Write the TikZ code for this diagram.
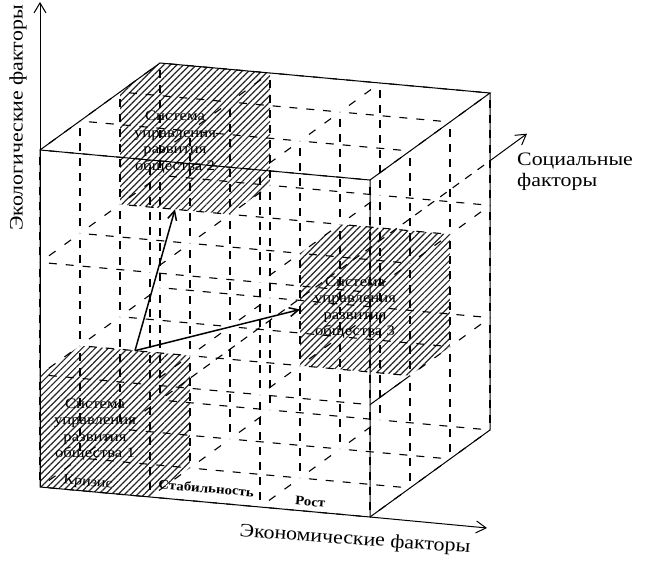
\documentclass[tikz,border=0pt]{standalone}
\usepackage{fontspec}
\setmainfont[FakeStretch=1.15]{Liberation Serif}
\usepackage{tikz}
\usetikzlibrary{arrows.meta, calc, patterns.meta, decorations}
\tikzset{
    gridline/.style={line width=1.1pt, dash pattern=on 8pt off 7pt, dash expand off},
    edge/.style={line width=1pt},
    axis/.style={line width=1pt, -{Straight Barb[length=10pt, width=12pt]}},
    vec/.style={line width=1.5pt, -{Straight Barb[length=9pt, width=9pt]}},
    hatched/.style={pattern={Lines[angle=45, distance=4.6pt, line width=1.2pt]}, pattern color=black!85},
    boxlabel/.style={align=center, inner sep=0pt, font=\fontsize{14.5}{16.5}\selectfont},
    axislabel/.style={inner sep=0pt, font=\fontsize{19}{21}\selectfont},
    statelabel/.style={anchor=south, rotate=-5, inner sep=0pt, font=\fontsize{13}{14}\selectfont\bfseries}
}

\begin{document}
\begin{tikzpicture}[x=1pt, y=1pt]
    \useasboundingbox (0,0) rectangle (655,567);
    % lattice points: i economic, j ecological, k social
    \foreach \i in {0,...,3}{
        \foreach \j in {0,...,3}{
            \foreach \k in {0,...,3}{
                \coordinate (p\i\j\k) at ({40+110*\i+40*\k},{80-10*\i+112.33*\j+29*\k});
            }
        }
    }
    % hatched cells
    \fill[hatched] (p000) -- (p100) -- (p101) -- (p111) -- (p011) -- (p010) -- cycle;
    \fill[hatched] (p022) -- (p122) -- (p123) -- (p133) -- (p033) -- (p032) -- cycle;
    \fill[hatched] (p211) -- (p311) -- (p312) -- (p322) -- (p222) -- (p221) -- cycle;
    % dashed lattice
    \foreach \a in {0,...,3}{
        \foreach \b in {0,...,3}{
            \foreach \c [count=\n] in {0,1,2}{
                \draw[gridline] (p\c\a\b) -- (p\n\a\b);
                \draw[gridline] (p\a\c\b) -- (p\a\n\b);
                \draw[gridline] (p\a\b\c) -- (p\a\b\n);
            }
        }
    }
    % visible edges of the cube
    \draw[edge] (p000) -- (p300) -- (p330) -- (p030) -- cycle;
    \draw[edge] (p030) -- (p033) -- (p333) -- (p330);
    \draw[edge] (p300) -- (p303) -- (p333);
    \draw[edge] (p310) -- (p311);
    % axes
    \coordinate (ecotip) at (40,565);
    \coordinate (econtip) at (487,39);
    \coordinate (socexit) at (490,406.25);
    \coordinate (soctip) at (527,433.3);
    \draw[axis] (p000) -- (ecotip);
    \draw[axis] (p300) -- (econtip);
    \draw[gridline] (p003) -- (socexit);
    \draw[axis] (socexit) -- (soctip);
    % development vectors
    \coordinate (vstart) at ($(p011)!0.5!(p111)$);
    \coordinate (v2end) at ($(p022)!0.5!(p122)$);
    \coordinate (v3end) at ($(p211)!0.5!(p221)$);
    \draw[vec] (vstart) -- (v2end);
    \draw[vec] (vstart) -- (v3end);
    % labels
    \node[boxlabel, yshift=6pt] (obj1) at ($(p000)!0.5!(p110)$) {Система\\управления\\развития\\общества 1};
    \node[boxlabel, yshift=11pt] (obj2) at ($(p022)!0.5!(p132)$) {Система\\управления\\развития\\общества 2};
    \node[boxlabel, yshift=7pt] (obj3) at ($(p211)!0.5!(p321)$) {Система\\управления\\развития\\общества 3};
    \node[statelabel, yshift=2pt, font=\fontsize{14}{15}\selectfont\mdseries] (crisis) at ($(p000)!0.43!(p100)$) {Кризис};
    \node[statelabel, yshift=9pt] (stable) at ($(p100)!0.5!(p200)$) {Стабильность};
    \node[statelabel, yshift=5pt] (growth) at ($(p200)!0.45!(p300)$) {Рост};
    \node[axislabel, rotate=90] (ecolbl) at (18,449) {Экологические факторы};
    \node[axislabel, rotate=-4] (econlbl) at (355,27) {Экономические факторы};
    \node[axislabel, anchor=west, align=left] (soclbl) at (517,395) {Социальные\\факторы};
\end{tikzpicture}
\end{document}
